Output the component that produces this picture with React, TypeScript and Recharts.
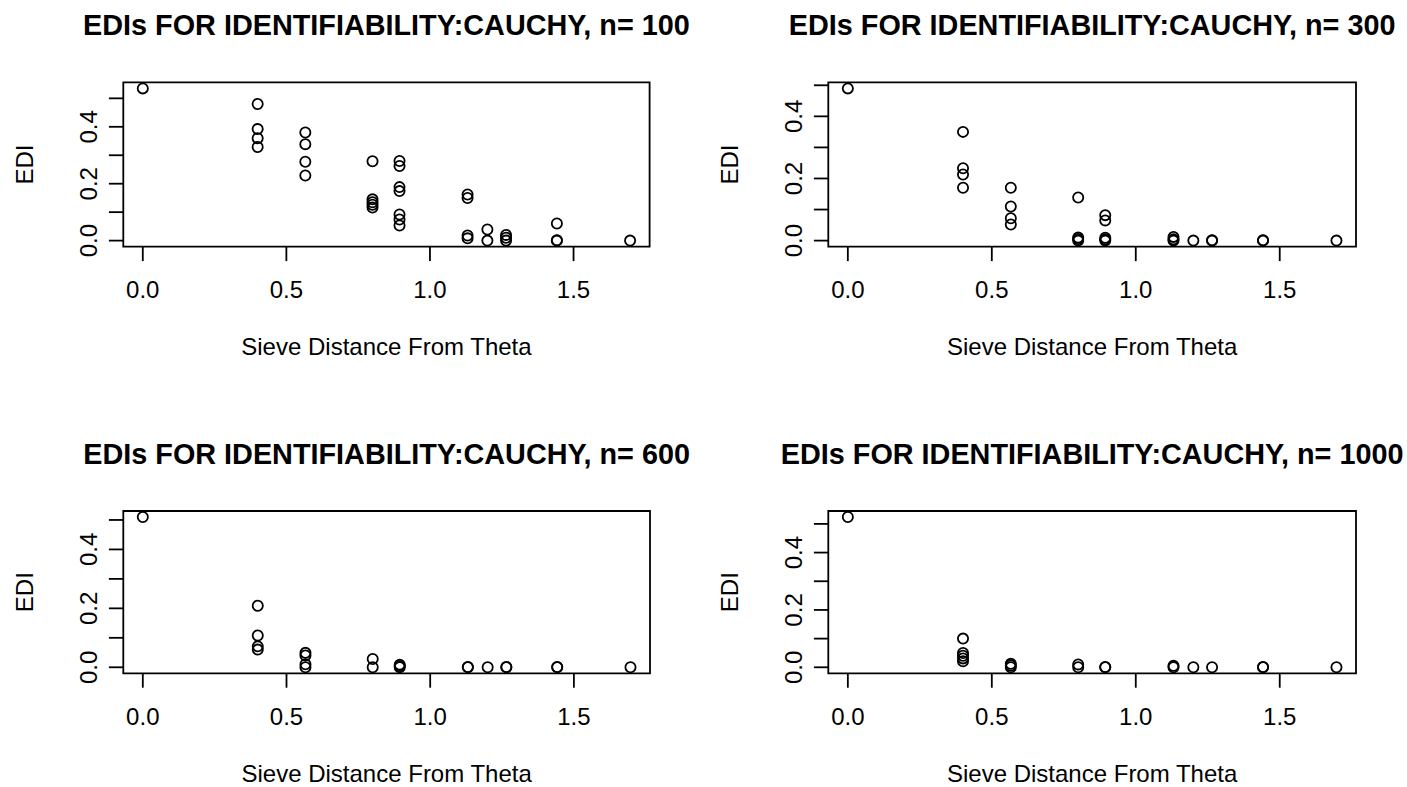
import React from 'react';
import { ScatterChart, Scatter, XAxis, YAxis, ReferenceArea } from 'recharts';

const distances = [0, 0.4, 0.566, 0.8, 0.894, 1.131, 1.2, 1.265, 1.442, 1.697];
const xTicks = [0, 0.5, 1, 1.5];
const xTickLabels = ['0.0', '0.5', '1.0', '1.5'];
const yTicks = [0, 0.1, 0.2, 0.3, 0.4, 0.5];
const yTickLabels = ['0.0', '', '0.2', '', '0.4', ''];

const edi100 = [
  [0.535],
  [0.48, 0.392, 0.36, 0.329],
  [0.38, 0.339, 0.277, 0.229],
  [0.279, 0.145, 0.135, 0.126, 0.116],
  [0.28, 0.262, 0.188, 0.174, 0.092, 0.074, 0.053],
  [0.162, 0.15, 0.018, 0.008],
  [0.039, 0.0],
  [0.02, 0.01, 0.0],
  [0.06, 0.0, 0.001],
  [0.0],
];
const edi300 = [
  [0.49],
  [0.35, 0.233, 0.213, 0.17],
  [0.17, 0.11, 0.072, 0.052],
  [0.139, 0.01, 0.005, 0.0],
  [0.082, 0.065, 0.009, 0.004, 0.0],
  [0.012, 0.004, 0.0],
  [0.0],
  [0.0, 0.001],
  [0.0, 0.001],
  [0.0],
];
const edi600 = [
  [0.51],
  [0.209, 0.108, 0.071, 0.06],
  [0.049, 0.04, 0.01, 0.0],
  [0.028, 0.0],
  [0.009, 0.004, 0.0],
  [0.0, 0.001],
  [0.0],
  [0.0, 0.001],
  [0.0, 0.001],
  [0.0],
];
const edi1000 = [
  [0.524],
  [0.1, 0.05, 0.04, 0.031, 0.021],
  [0.012, 0.006, 0.0],
  [0.01, 0.0],
  [0.0, 0.001],
  [0.005, 0.0],
  [0.0],
  [0.0],
  [0.0, 0.001],
  [0.0],
];

const titles = [
  'EDIs FOR IDENTIFIABILITY:CAUCHY, n= 100',
  'EDIs FOR IDENTIFIABILITY:CAUCHY, n= 300',
  'EDIs FOR IDENTIFIABILITY:CAUCHY, n= 600',
  'EDIs FOR IDENTIFIABILITY:CAUCHY, n= 1000',
];
const xTitle = 'Sieve Distance From Theta';
const yTitle = 'EDI';

const FONT = '"Liberation Sans", Arial, Helvetica, sans-serif';
const LW = 1.8;

type Box = { L: number; R: number; T: number; B: number };

const Ring = (props: any) => {
  const { cx, cy } = props;
  if (cx == null || cy == null) return null;
  return <circle cx={cx} cy={cy} r={5.1} fill="none" stroke="#000" strokeWidth={LW} />;
};

function Panel({ values, title, box, left, top }: { values: number[][]; title: string; box: Box; left: number; top: number }) {
  const W = 704;
  const H = 428;
  const XH = 150;
  const data: { x: number; y: number }[] = [];
  values.forEach((grp, i) => grp.forEach((v) => data.push({ x: distances[i], y: v })));
  const ys = data.map((d) => d.y);
  const yMin = Math.min(...ys);
  const yMax = Math.max(...ys);
  const yr = yMax - yMin;
  const yDomain: [number, number] = [yMin - 0.04 * yr, yMax + 0.04 * yr];
  const xMin = Math.min(...distances);
  const xMax = Math.max(...distances);
  const xr = xMax - xMin;
  const xDomain: [number, number] = [xMin - 0.04 * xr, xMax + 0.04 * xr];
  const margin = { top: box.T, right: W - box.R, bottom: H - box.B - XH, left: 0 };

  const XTick = (p: any) => {
    const idx = xTicks.indexOf(p.payload.value);
    return (
      <text x={p.x} y={p.y + 37.2} textAnchor="middle" fontSize={24} fontFamily={FONT} fill="#000">
        {idx >= 0 ? xTickLabels[idx] : ''}
      </text>
    );
  };
  const YTick = (p: any) => {
    const idx = yTicks.findIndex((t) => Math.abs(t - p.payload.value) < 1e-9);
    const lab = idx >= 0 ? yTickLabels[idx] : '';
    if (!lab) return <g />;
    const tx = p.x - 12.2;
    return (
      <text x={tx} y={p.y} transform={`rotate(-90, ${tx}, ${p.y})`} textAnchor="middle" fontSize={24} fontFamily={FONT} fill="#000">
        {lab}
      </text>
    );
  };

  const cxBox = (box.L + box.R) / 2;
  const cyBox = (box.T + box.B) / 2;
  const yTitleX = box.L - 90;

  return (
    <div style={{ position: 'absolute', left, top, width: W, height: H }}>
      <ScatterChart width={W} height={H} margin={margin}>
        <XAxis
          type="number"
          dataKey="x"
          domain={xDomain}
          ticks={xTicks}
          interval={0}
          allowDataOverflow
          axisLine={false}
          stroke="#000"
          tickSize={14.4}
          tickMargin={0}
          tickLine={{ stroke: '#000', strokeWidth: LW }}
          height={XH}
          tick={XTick}
        />
        <YAxis
          type="number"
          dataKey="y"
          domain={yDomain}
          ticks={yTicks}
          interval={0}
          allowDataOverflow
          axisLine={false}
          stroke="#000"
          tickSize={14.4}
          tickMargin={0}
          tickLine={{ stroke: '#000', strokeWidth: LW }}
          width={box.L}
          tick={YTick}
        />
        <ReferenceArea
          x1={xDomain[0]}
          x2={xDomain[1]}
          y1={yDomain[0]}
          y2={yDomain[1]}
          fill="none"
          fillOpacity={0}
          stroke="#000"
          strokeWidth={LW}
          ifOverflow="visible"
        />
        <Scatter data={data} isAnimationActive={false} shape={Ring} />
      </ScatterChart>
      <svg width={W} height={H} style={{ position: 'absolute', left: 0, top: 0, pointerEvents: 'none' }}>
        <text x={cxBox} y={box.T - 47.3} textAnchor="middle" fontSize={28.8} fontWeight="bold" fontFamily={FONT} fill="#000">
          {title}
        </text>
        <text x={cxBox} y={box.B + 108.3} textAnchor="middle" fontSize={24} fontFamily={FONT} fill="#000">
          {xTitle}
        </text>
        <text x={yTitleX} y={cyBox} transform={`rotate(-90, ${yTitleX}, ${cyBox})`} textAnchor="middle" fontSize={24} fontFamily={FONT} fill="#000">
          {yTitle}
        </text>
      </svg>
    </div>
  );
}

export default function App() {
  return (
    <div style={{ position: 'absolute', left: 0, top: 0, width: 1407, height: 787, overflow: 'hidden', background: '#fff' }}>
      <Panel values={edi100} title={titles[0]} box={{ L: 123.3, R: 649.6, T: 82.3, B: 246.7 }} left={0} top={0} />
      <Panel values={edi300} title={titles[1]} box={{ L: 124.3, R: 652, T: 82.3, B: 246.7 }} left={704} top={0} />
      <Panel values={edi600} title={titles[2]} box={{ L: 123.3, R: 650, T: 83, B: 245.3 }} left={0} top={428} />
      <Panel values={edi1000} title={titles[3]} box={{ L: 124.3, R: 652, T: 83, B: 245.3 }} left={704} top={428} />
    </div>
  );
}
